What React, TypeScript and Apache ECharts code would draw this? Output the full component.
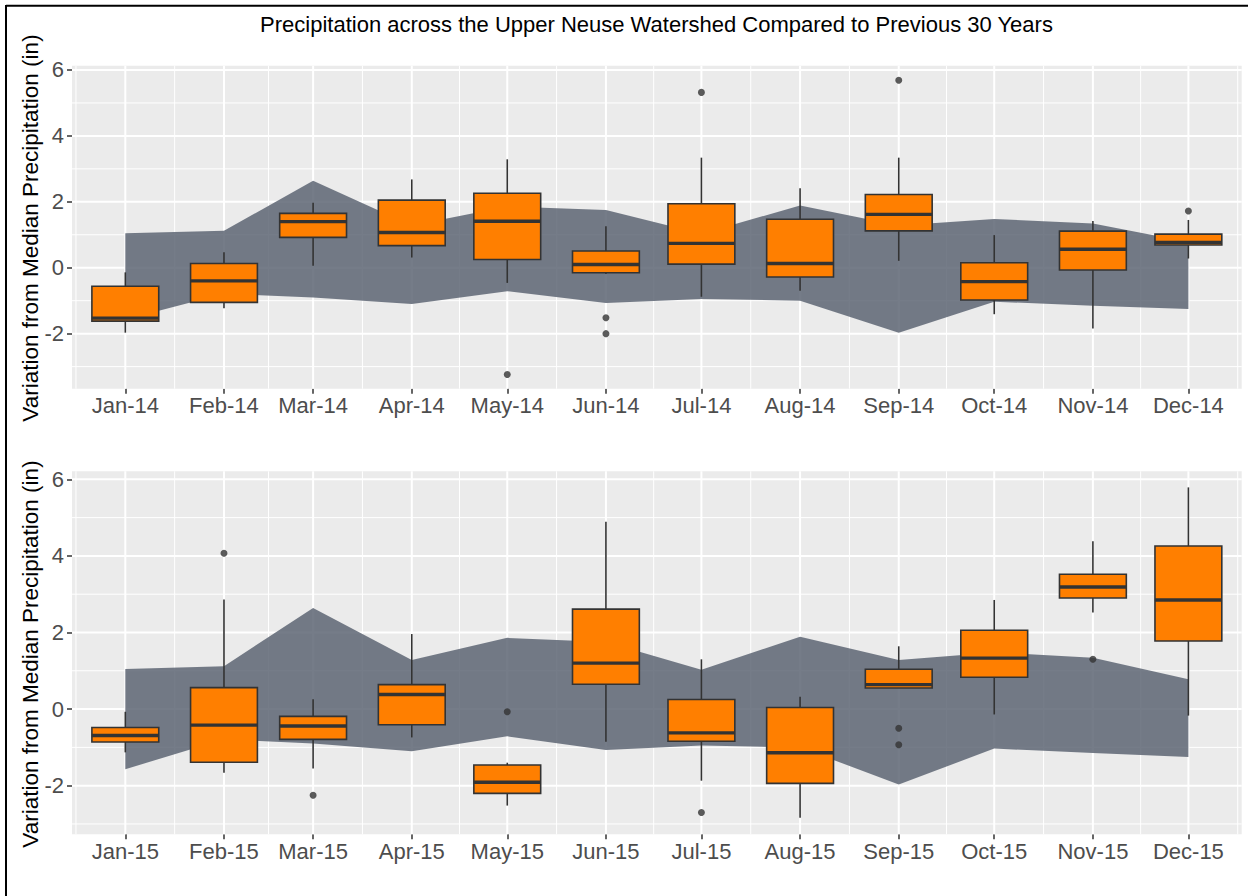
import React, { useEffect, useRef } from "react";
import * as echarts from "echarts";

// Day offsets of the first of each month (non-leap year), used as x positions
const monthStarts = [0, 31, 59, 90, 120, 151, 181, 212, 243, 273, 304, 334];
const labels2014 = ["Jan-14", "Feb-14", "Mar-14", "Apr-14", "May-14", "Jun-14", "Jul-14", "Aug-14", "Sep-14", "Oct-14", "Nov-14", "Dec-14"];
const labels2015 = ["Jan-15", "Feb-15", "Mar-15", "Apr-15", "May-15", "Jun-15", "Jul-15", "Aug-15", "Sep-15", "Oct-15", "Nov-15", "Dec-15"];
const yTicks = [-2, 0, 2, 4, 6];
const yMinorTicks = [-3, -1, 1, 3, 5];
const yTitle = "Variation from Median Precipitation (in)";
const chartTitle = "Precipitation across the Upper Neuse Watershed Compared to Previous 30 Years";

// 30-year reference band (same in both panels)
const ribbonUpper = [1.05, 1.12, 2.64, 1.28, 1.86, 1.75, 1.03, 1.89, 1.28, 1.48, 1.34, 0.78];
const ribbonLower = [-1.57, -0.79, -0.9, -1.1, -0.71, -1.07, -0.95, -1.0, -1.97, -1.03, -1.15, -1.25];

// 2014 box statistics
const lo14 = [-1.97, -1.23, 0.06, 0.31, -0.46, -0.19, -0.88, -0.7, 0.21, -1.41, -1.84, 0.28];
const q1_14 = [-1.62, -1.05, 0.92, 0.67, 0.25, -0.15, 0.11, -0.28, 1.12, -0.98, -0.07, 0.69];
const med14 = [-1.53, -0.4, 1.4, 1.07, 1.41, 0.1, 0.74, 0.13, 1.62, -0.42, 0.56, 0.77];
const q3_14 = [-0.56, 0.13, 1.65, 2.05, 2.26, 0.51, 1.94, 1.47, 2.22, 0.15, 1.11, 1.02];
const hi14 = [-0.14, 0.47, 1.97, 2.68, 3.29, 1.26, 3.34, 2.41, 3.34, 0.99, 1.42, 1.45];
const outlierMonth14 = [4, 5, 5, 6, 8, 11];
const outlierVal14 = [-3.24, -1.52, -2.0, 5.32, 5.69, 1.72];

// 2015 box statistics
const lo15 = [-1.13, -1.66, -1.55, -0.74, -2.52, -0.85, -1.87, -2.84, 0.55, -0.14, 2.52, -0.17];
const q1_15 = [-0.86, -1.39, -0.79, -0.41, -2.2, 0.65, -0.84, -1.94, 0.55, 0.83, 2.9, 1.78];
const med15 = [-0.69, -0.42, -0.44, 0.38, -1.91, 1.2, -0.62, -1.14, 0.64, 1.33, 3.19, 2.85];
const q3_15 = [-0.48, 0.56, -0.19, 0.64, -1.46, 2.61, 0.25, 0.04, 1.04, 2.06, 3.52, 4.26];
const hi15 = [-0.07, 2.86, 0.26, 1.96, -1.4, 4.89, 1.3, 0.32, 1.64, 2.85, 4.38, 5.79];
const outlierMonth15 = [1, 2, 4, 6, 8, 8, 10];
const outlierVal15 = [4.07, -2.25, -0.07, -2.7, -0.5, -0.93, 1.3];

const X_MIN = -16.75;
const X_MAX = 350.75;
const Y_RANGE = [
  [-3.67, 6.13],
  [-3.27, 6.21],
];
const BOX_DAYS = 21;
const FONT = "'Liberation Sans', Arial, sans-serif";

const extendedStarts = [-31, ...monthStarts, 365];
const minorX = extendedStarts.slice(1).map((d, i) => (d + extendedStarts[i]) / 2);

function vLines(xs: number[], g: number, width: number) {
  const [yMin, yMax] = Y_RANGE[g];
  return {
    type: "custom",
    xAxisIndex: g,
    yAxisIndex: g,
    silent: true,
    z: 1,
    data: xs.map((x) => [x, 0]),
    renderItem: (_p: any, api: any) => {
      const x = api.value(0);
      const a = api.coord([x, yMin]);
      const b = api.coord([x, yMax]);
      return { type: "line", shape: { x1: a[0], y1: a[1], x2: b[0], y2: b[1] }, style: { stroke: "#FFFFFF", lineWidth: width } };
    },
  };
}

function hLines(ys: number[], g: number, width: number) {
  return {
    type: "custom",
    xAxisIndex: g,
    yAxisIndex: g,
    silent: true,
    z: 1,
    data: ys.map((y) => [0, y]),
    renderItem: (_p: any, api: any) => {
      const y = api.value(1);
      const a = api.coord([X_MIN, y]);
      const b = api.coord([X_MAX, y]);
      return { type: "line", shape: { x1: a[0], y1: a[1], x2: b[0], y2: b[1] }, style: { stroke: "#FFFFFF", lineWidth: width } };
    },
  };
}

function ribbon(g: number) {
  return {
    type: "custom",
    xAxisIndex: g,
    yAxisIndex: g,
    silent: true,
    z: 2,
    data: monthStarts.map((d, i) => [d, ribbonLower[i], ribbonUpper[i]]),
    renderItem: (p: any, api: any) => {
      if (p.dataIndex !== 0) return null;
      const top = monthStarts.map((d, i) => api.coord([d, ribbonUpper[i]]));
      const bot = monthStarts.map((d, i) => api.coord([d, ribbonLower[i]])).reverse();
      return {
        type: "polygon",
        shape: { points: [...top, ...bot] },
        style: { fill: "rgba(94,102,117,0.86)" },
      };
    },
  };
}

function boxes(g: number, lo: number[], q1: number[], md: number[], q3: number[], hi: number[]) {
  return {
    type: "custom",
    xAxisIndex: g,
    yAxisIndex: g,
    silent: true,
    z: 3,
    data: monthStarts.map((d, i) => [d, lo[i], q1[i], md[i], q3[i], hi[i]]),
    renderItem: (_p: any, api: any) => {
      const x = api.value(0);
      const w = api.size([BOX_DAYS, 0])[0];
      const pLo = api.coord([x, api.value(1)]);
      const pQ1 = api.coord([x, api.value(2)]);
      const pMd = api.coord([x, api.value(3)]);
      const pQ3 = api.coord([x, api.value(4)]);
      const pHi = api.coord([x, api.value(5)]);
      const stroke = "#333333";
      return {
        type: "group",
        children: [
          { type: "line", shape: { x1: pHi[0], y1: pHi[1], x2: pQ3[0], y2: pQ3[1] }, style: { stroke, lineWidth: 1.6 } },
          { type: "line", shape: { x1: pQ1[0], y1: pQ1[1], x2: pLo[0], y2: pLo[1] }, style: { stroke, lineWidth: 1.6 } },
          {
            type: "rect",
            shape: { x: pQ3[0] - w / 2, y: pQ3[1], width: w, height: pQ1[1] - pQ3[1] },
            style: { fill: "#FF7F00", stroke, lineWidth: 1.6 },
          },
          { type: "line", shape: { x1: pMd[0] - w / 2, y1: pMd[1], x2: pMd[0] + w / 2, y2: pMd[1] }, style: { stroke, lineWidth: 3.4 } },
        ],
      };
    },
  };
}

function outliers(g: number, idx: number[], vals: number[]) {
  return {
    type: "scatter",
    xAxisIndex: g,
    yAxisIndex: g,
    silent: true,
    z: 4,
    symbol: "circle",
    symbolSize: 7,
    itemStyle: { color: "#333333" },
    data: idx.map((m, i) => [monthStarts[m], vals[i]]),
  };
}

function xAxis(g: number, labels: string[]) {
  return {
    type: "value",
    gridIndex: g,
    position: "bottom",
    min: X_MIN,
    max: X_MAX,
    axisLine: { show: false, onZero: false },
    splitLine: { show: false },
    axisTick: { show: true, customValues: monthStarts, length: 5, lineStyle: { color: "#333333", width: 1.5 } },
    axisLabel: {
      show: true,
      customValues: monthStarts,
      margin: 6,
      color: "#4D4D4D",
      fontSize: 22,
      fontFamily: FONT,
      formatter: (v: number) => {
        const i = monthStarts.indexOf(Math.round(v));
        return i >= 0 ? labels[i] : "";
      },
    },
  };
}

function yAxis(g: number) {
  return {
    type: "value",
    gridIndex: g,
    position: "left",
    min: Y_RANGE[g][0],
    max: Y_RANGE[g][1],
    axisLine: { show: false, onZero: false },
    splitLine: { show: false },
    axisTick: { show: true, customValues: yTicks, length: 5, lineStyle: { color: "#333333", width: 1.5 } },
    axisLabel: {
      show: true,
      customValues: yTicks,
      margin: 8,
      color: "#4D4D4D",
      fontSize: 22,
      fontFamily: FONT,
    },
  };
}

function rotatedTitle(yCenter: number) {
  return {
    type: "text",
    x: 30,
    y: yCenter,
    rotation: Math.PI / 2,
    style: {
      text: yTitle,
      fill: "#000000",
      fontSize: 22.5,
      fontFamily: FONT,
      align: "center",
      verticalAlign: "middle",
    },
  };
}

export default function App() {
  const ref = useRef<HTMLDivElement>(null);
  useEffect(() => {
    if (!ref.current) return;
    const chart = echarts.init(ref.current, null, { renderer: "svg" });
    chart.setOption({
      animation: false,
      backgroundColor: "#FFFFFF",
      textStyle: { fontFamily: FONT },
      grid: [
        { left: 72, top: 65.7, width: 1169.7, height: 323, show: true, backgroundColor: "#EBEBEB", borderWidth: 0 },
        { left: 72, top: 471.3, width: 1169.7, height: 363, show: true, backgroundColor: "#EBEBEB", borderWidth: 0 },
      ],
      xAxis: [xAxis(0, labels2014), xAxis(1, labels2015)],
      yAxis: [yAxis(0), yAxis(1)],
      graphic: [
        { type: "line", shape: { x1: 6, y1: 5.8, x2: 1248, y2: 5.8 }, style: { stroke: "#000000", lineWidth: 2 } },
        { type: "line", shape: { x1: 6, y1: 5, x2: 6, y2: 896 }, style: { stroke: "#000000", lineWidth: 2 } },
        {
          type: "text",
          x: 656.5,
          y: 24,
          style: {
            text: chartTitle,
            fill: "#000000",
            fontSize: 22,
            fontFamily: FONT,
            align: "center",
            verticalAlign: "middle",
          },
        },
        rotatedTitle(228),
        rotatedTitle(654),
      ],
      series: [
        hLines(yMinorTicks, 0, 1),
        vLines(minorX, 0, 1),
        hLines(yTicks, 0, 2),
        vLines(monthStarts, 0, 2),
        ribbon(0),
        boxes(0, lo14, q1_14, med14, q3_14, hi14),
        outliers(0, outlierMonth14, outlierVal14),
        hLines(yMinorTicks, 1, 1),
        vLines(minorX, 1, 1),
        hLines(yTicks, 1, 2),
        vLines(monthStarts, 1, 2),
        ribbon(1),
        boxes(1, lo15, q1_15, med15, q3_15, hi15),
        outliers(1, outlierMonth15, outlierVal15),
      ],
    });
    return () => chart.dispose();
  }, []);
  return (
    <div
      ref={ref}
      style={{ position: "absolute", left: 0, top: 0, width: 1248, height: 896, background: "#FFFFFF" }}
    />
  );
}
